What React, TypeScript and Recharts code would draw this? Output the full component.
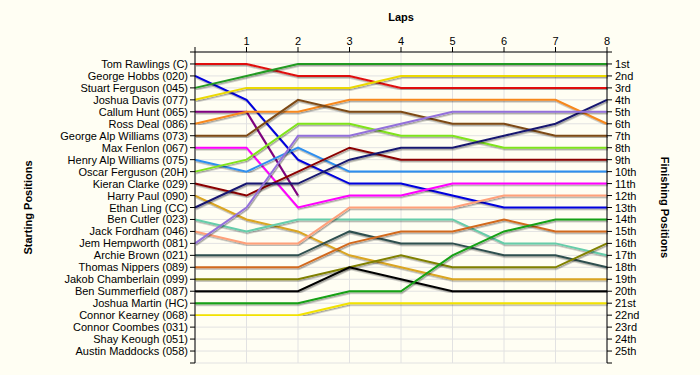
import { CartesianGrid, Label, Line, LineChart, XAxis, YAxis } from 'recharts'

const laps = [0, 1, 2, 3, 4, 5, 6, 7, 8]

const starters = [
  'Tom Rawlings (C)',
  'George Hobbs (020)',
  'Stuart Ferguson (045)',
  'Joshua Davis (077)',
  'Callum Hunt (065)',
  'Ross Deal (086)',
  'George Alp Williams (073)',
  'Max Fenlon (067)',
  'Henry Alp Williams (075)',
  'Oscar Ferguson (20H)',
  'Kieran Clarke (029)',
  'Harry Paul (090)',
  'Ethan Ling (CC)',
  'Ben Cutler (023)',
  'Jack Fordham (046)',
  'Jem Hempworth (081)',
  'Archie Brown (021)',
  'Thomas Nippers (089)',
  'Jakob Chamberlain (099)',
  'Ben Summerfield (087)',
  'Joshua Martin (HC)',
  'Connor Kearney (068)',
  'Connor Coombes (031)',
  'Shay Keough (051)',
  'Austin Maddocks (058)',
]

const finishLabels = [
  '1st', '2nd', '3rd', '4th', '5th', '6th', '7th', '8th', '9th', '10th',
  '11th', '12th', '13th', '14th', '15th', '16th', '17th', '18th', '19th', '20th',
  '21st', '22nd', '23rd', '24th', '25th',
]

const lineColors = [
  '#e01010', '#0000dd', '#229a22', '#ebd900', '#800080', '#f7881f',
  '#7d4a14', '#ff00ff', '#2f8fef', '#7fe31a', '#8b0000', '#daa520',
  '#191970', '#66cdaa', '#ffa07a', '#9370db', '#2f4f4f', '#d2691e',
  '#808000', '#000000', '#14a014', '#f2e200',
]

// position of each driver at each lap (null = retired)
const positions: (number | null)[][] = [
  [1, 1, 2, 2, 3, 3, 3, 3, 3],
  [2, 4, 9, 11, 11, 12, 13, 13, 13],
  [3, 2, 1, 1, 1, 1, 1, 1, 1],
  [4, 3, 3, 3, 2, 2, 2, 2, 2],
  [5, 5, 12, null, null, null, null, null, null],
  [6, 5, 5, 4, 4, 4, 4, 4, 6],
  [7, 7, 4, 5, 5, 6, 6, 7, 7],
  [8, 8, 13, 12, 12, 11, 11, 11, 11],
  [9, 10, 8, 10, 10, 10, 10, 10, 10],
  [10, 9, 6, 6, 7, 7, 8, 8, 8],
  [11, 12, 10, 8, 9, 9, 9, 9, 9],
  [12, 14, 15, 17, 18, 19, 19, 19, 19],
  [13, 11, 11, 9, 8, 8, 7, 6, 4],
  [14, 15, 14, 14, 14, 14, 16, 16, 17],
  [15, 16, 16, 13, 13, 13, 12, 12, 12],
  [16, 13, 7, 7, 6, 5, 5, 5, 5],
  [17, 17, 17, 15, 16, 16, 17, 17, 18],
  [18, 18, 18, 16, 15, 15, 14, 15, 15],
  [19, 19, 19, 18, 17, 18, 18, 18, 16],
  [20, 20, 20, 18, 19, 20, 20, 20, 20],
  [21, 21, 21, 20, 20, 17, 15, 14, 14],
  [22, 22, 22, 21, 21, 21, 21, 21, 21],
]

const rowTicks = Array.from({ length: 27 }, (_, i) => i)

const data = laps.map((lap, i) => {
  const row: Record<string, number | null> = { lap }
  positions.forEach((p, d) => {
    row['d' + d] = p[i]
  })
  return row
})

const FONT = '"Liberation Sans", Arial, sans-serif'
const titleStyle = { fontFamily: FONT, fontSize: 11, fontWeight: 'bold', fill: '#000', textAnchor: 'middle' as const }

function makeTick(labels: string[], anchor: 'start' | 'end', dx: number) {
  return (props: any) => {
    const { x, y, payload } = props
    const text = labels[payload.value - 1]
    if (!text) return <g />
    return (
      <text x={x + dx} y={y} dy={4} textAnchor={anchor} fontFamily={FONT} fontSize={11} fill="#000">
        {text}
      </text>
    )
  }
}

const startTick = makeTick(starters, 'end', 0)
const finishTick = makeTick(finishLabels, 'start', 1)

export default function App() {
  return (
    <div style={{ width: 700, height: 375, background: '#fffef3' }}>
      <style>{'body{margin:0}'}</style>
      <LineChart
        width={700}
        height={375}
        data={data}
        margin={{ top: 30, right: 33, left: 25, bottom: 12 }}
      >
        <defs>
          <filter id="shadow" x="-5%" y="-5%" width="110%" height="110%">
            <feDropShadow dx="1" dy="1.5" stdDeviation="0.4" floodColor="#000" floodOpacity="0.35" />
          </filter>
        </defs>
        <CartesianGrid stroke="#e2e2e2" yAxisId="left" />
        <XAxis
          dataKey="lap"
          type="number"
          orientation="top"
          domain={[0, 8]}
          ticks={laps}
          height={22}
          interval={0}
          tickSize={5}
          tick={{ fontFamily: FONT, fontSize: 11, fill: '#000' }}
          stroke="#000"
          tickFormatter={(v) => (v === 0 ? '' : String(v))}
        >
          <Label value="Laps" position="top" offset={9} style={titleStyle} />
        </XAxis>
        <YAxis
          yAxisId="left"
          type="number"
          reversed
          domain={[0, 26]}
          ticks={rowTicks}
          interval={0}
          width={170}
          tickSize={5}
          tick={startTick}
          stroke="#000"
        >
          <Label value="Starting Positions" angle={-90} position="insideLeft" offset={3} style={titleStyle} />
        </YAxis>
        <YAxis
          yAxisId="right"
          orientation="right"
          type="number"
          reversed
          domain={[0, 26]}
          ticks={rowTicks}
          interval={0}
          width={60}
          tickSize={5}
          tick={finishTick}
          stroke="#000"
        >
          <Label value="Finishing Positions" angle={90} position="insideRight" offset={2} style={titleStyle} />
        </YAxis>
        <Line
          yAxisId="right"
          dataKey="d0"
          stroke="none"
          dot={false}
          activeDot={false}
          isAnimationActive={false}
        />
        {positions.map((_, d) => (
          <Line
            key={d}
            yAxisId="left"
            type="linear"
            dataKey={'d' + d}
            stroke={lineColors[d]}
            strokeWidth={2}
            dot={false}
            activeDot={false}
            isAnimationActive={false}
            style={{ filter: 'url(#shadow)' }}
          />
        ))}
      </LineChart>
    </div>
  )
}
